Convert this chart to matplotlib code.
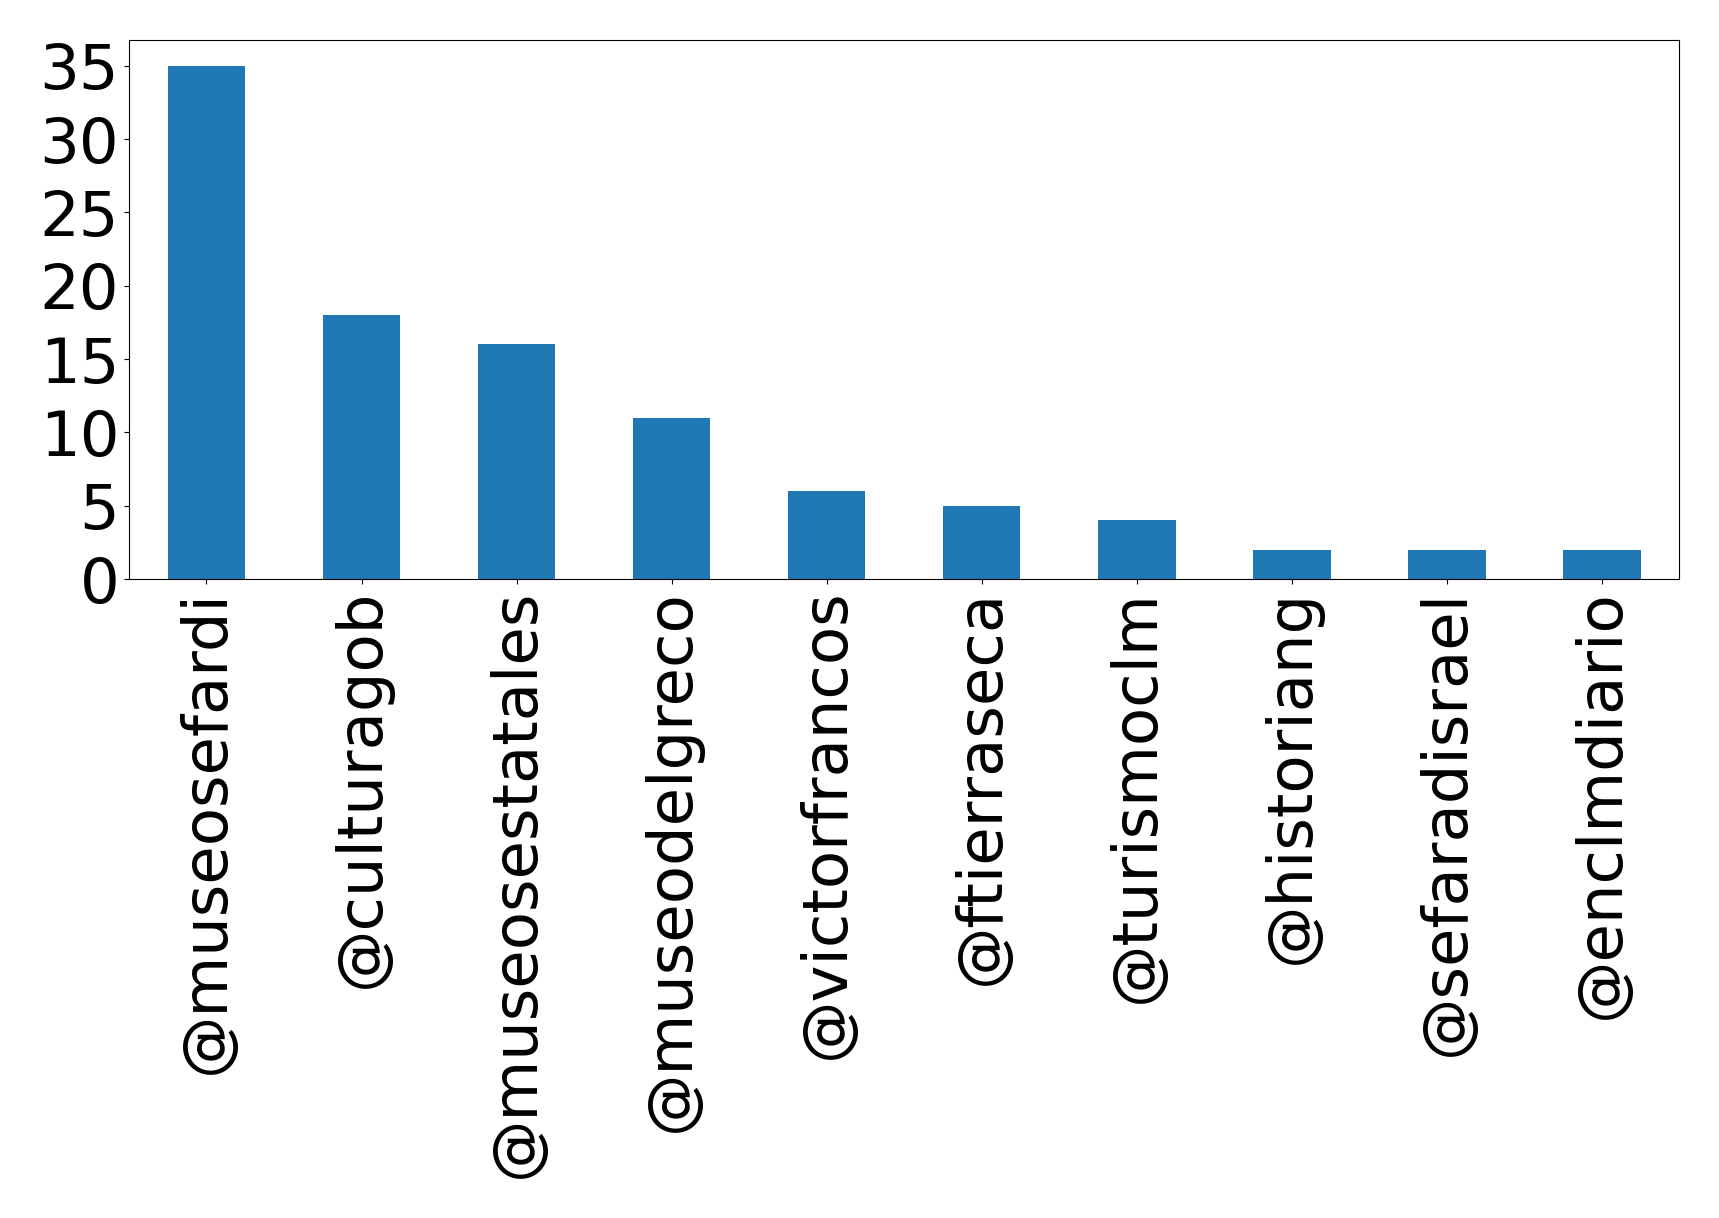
import matplotlib
matplotlib.use("Agg")
import matplotlib.pyplot as plt
import numpy as np

accounts = ["@museosefardi", "@culturagob", "@museosestatales", "@museodelgreco",
            "@victorfrancos", "@ftierraseca", "@turismoclm", "@historiang",
            "@sefaradisrael", "@enclmdiario"]
counts = [35, 18, 16, 11, 6, 5, 4, 2, 2, 2]

fig = plt.figure(figsize=(17.19, 12.18), dpi=100)
ax = fig.add_axes([0.075, 0.5246, 0.902, 0.4425])

x = np.arange(len(accounts))
ax.bar(x, counts, width=0.5, color="#1f77b4")
ax.set_xlim(-0.5, len(accounts) - 0.5)
ax.set_xticks(x)
ax.set_xticklabels(accounts, rotation=90)
ax.set_yticks([0, 5, 10, 15, 20, 25, 30, 35])
ax.tick_params(axis="both", labelsize=45)

fig.savefig("out.png", dpi=100)
